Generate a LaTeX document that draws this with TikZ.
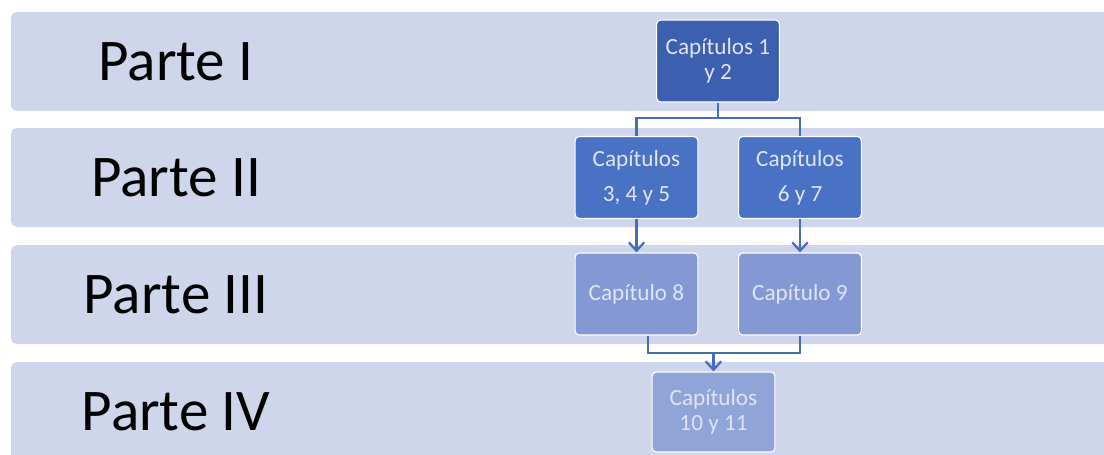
\documentclass[tikz,border=0pt]{standalone}
\usepackage{fontspec}
\setmainfont{Carlito}
\usetikzlibrary{positioning, arrows.meta}
\definecolor{myband}{RGB}{207,213,234}
\definecolor{mydark}{RGB}{61,95,176}
\definecolor{mymid}{RGB}{73,113,196}
\definecolor{mylight}{RGB}{132,152,211}
\definecolor{mypale}{RGB}{145,164,215}
\definecolor{myline}{RGB}{70,108,188}
\definecolor{mytext}{RGB}{222,228,244}

\tikzset{
	chap/.style={rectangle, rounded corners=3pt, draw=white, line width=0.8pt, align=center,
		minimum width=3.07cm, minimum height=2.05cm, text=mytext,
		font=\fontsize{16.5}{18}\selectfont},
	link/.style={draw=myline, line width=1.6pt},
	arrow/.style={link, -{Straight Barb[length=6pt, width=11pt, line width=1.6pt]}}
}

\begin{document}
\begin{tikzpicture}[x=0.025cm, y=-0.025cm]

\useasboundingbox (0,0) rectangle (1104,454);
\clip (0,0) rectangle (1104,454);

%---------BANDS-----------%

\foreach \y/\t in {12/I, 128/II, 245/III, 362/IV}{
	\fill[myband, rounded corners=4pt] (11,\y) rectangle (1130,\y+99);
	\node [font=\fontsize{42}{46}\selectfont] (p\t) at (176,\y+50) {Parte \t};
};

%---------BOXES-----------%

\node [chap, fill=mydark] (c12) at (718,61) {Capítulos 1\\y 2};
\node [chap, fill=mymid] (c345) at (636.5,177.5) {Capítulos\\[7pt]3, 4 y 5};
\node [chap, fill=mymid] (c67) at (800,177.5) {Capítulos\\[7pt]6 y 7};
\node [chap, fill=mylight] (c8) at (636.5,294) {Capítulo 8};
\node [chap, fill=mylight] (c9) at (800,294) {Capítulo 9};
\node [chap, fill=mypale, minimum height=2cm] (c1011) at (713.5,412) {Capítulos\\10 y 11};

%---------LINKS-----------%

\coordinate (split) at (718,118);
\coordinate (join) at (713.5,353);

\draw[link] (c12.south) -- (split);
\draw[link] (c345.north) |- (split) -| (c67.north);

\draw[arrow] (c345) -- (c8);
\draw[arrow] (c67) -- (c9);

\draw[link] ([xshift=0.29cm]c8.south) |- (join) -| (c9.south);
\draw[arrow] (join) -- (c1011.north);

\end{tikzpicture}
\end{document}
